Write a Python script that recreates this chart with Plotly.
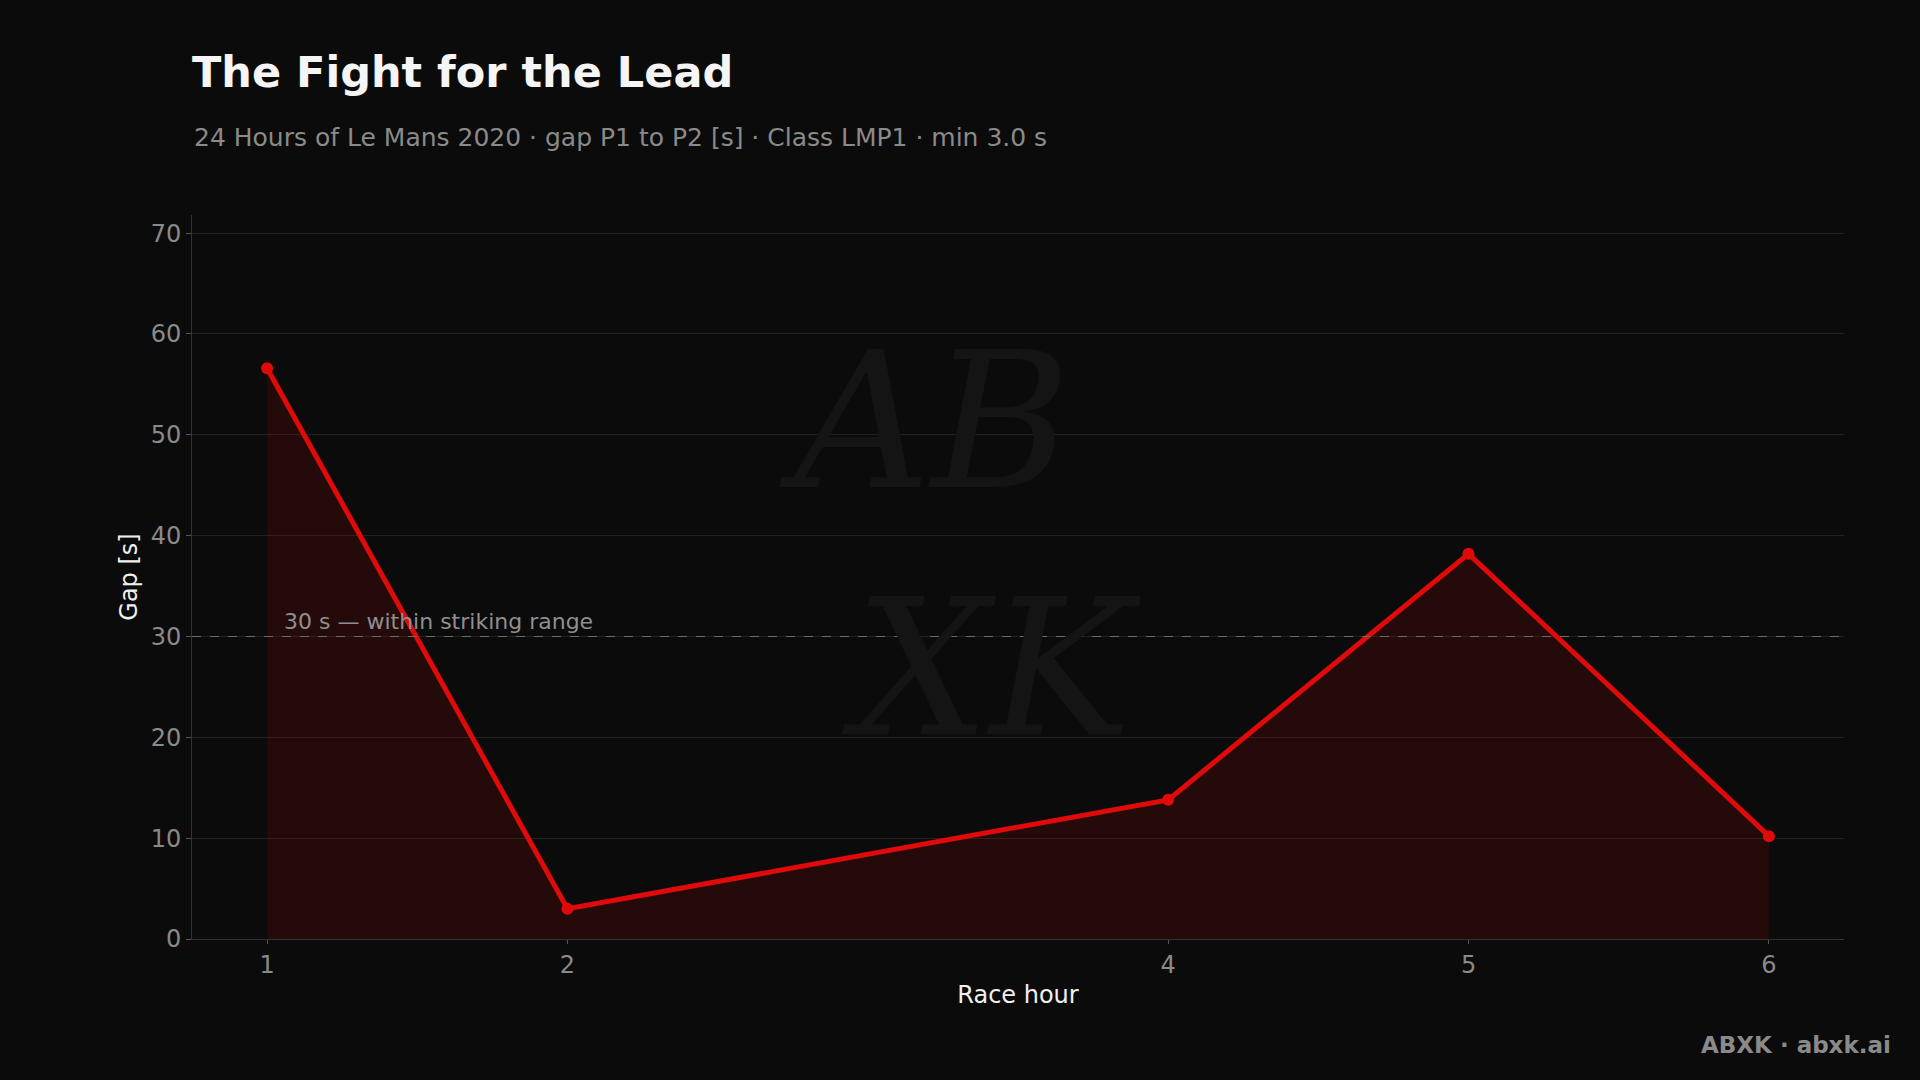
import plotly.graph_objects as go

hours = [1, 2, 4, 5, 6]
gap_s = [56.6, 3.0, 13.8, 38.2, 10.2]
y_ticks = [0, 10, 20, 30, 40, 50, 60, 70]
threshold = 30
threshold_label = "30 s — within striking range"

title = "The Fight for the Lead"
subtitle = "24 Hours of Le Mans 2020 · gap P1 to P2 [s] · Class LMP1 · min 3.0 s"
footer = "ABXK · abxk.ai"
watermark = "AB<br> XK"

BG = "#0b0b0b"
RED = "#e00a0a"
FONT = "DejaVu Sans"

W, H = 1920, 1080
plot_l, plot_r, plot_t, plot_b = 192, 1844, 215, 939
pw, ph = plot_r - plot_l, plot_b - plot_t


def px_to_paper(px, py):
    return (px - plot_l) / pw, (plot_b - py) / ph


fig = go.Figure()
fig.add_trace(go.Scatter(
    x=hours, y=gap_s, mode="lines+markers",
    line=dict(color=RED, width=5),
    marker=dict(color=RED, size=12),
    fill="tozeroy", fillcolor="rgba(200,10,10,0.14)",
    hoverinfo="x+y", showlegend=False,
))

fig.add_shape(type="line", xref="paper", yref="y", x0=0, x1=1, y0=threshold, y1=threshold,
              line=dict(color="#6a6a6a", width=1.2, dash="dash"), layer="above")
fig.add_annotation(x=1.05, y=threshold, xref="x", yref="y", text=threshold_label,
                   showarrow=False, xanchor="left", yanchor="bottom",
                   font=dict(family=FONT, size=22, color="#8f8f8f"))

# watermark
wx, wy = px_to_paper(960, 545)
fig.add_annotation(x=wx, y=wy, xref="paper", yref="paper", text=f"<i>{watermark}</i>",
                   showarrow=False, align="left",
                   font=dict(family="DejaVu Serif", size=190, color="#141414"))

sx, sy = px_to_paper(192, 137)
fig.add_annotation(x=sx, y=sy, xref="paper", yref="paper",
                   xanchor="left", yanchor="middle", showarrow=False,
                   text=subtitle, font=dict(family=FONT, size=25, color="#8a8a8a"))

fx, fy = px_to_paper(1893, 1045)
fig.add_annotation(x=fx, y=fy, xref="paper", yref="paper", showarrow=False,
                   xanchor="right", yanchor="middle",
                   text=f"<b>{footer}</b>", font=dict(family=FONT, size=23, color="#8a8a8a"))

fig.update_layout(
    width=W, height=H,
    paper_bgcolor=BG, plot_bgcolor=BG,
    margin=dict(l=plot_l, r=W - plot_r, t=plot_t, b=H - plot_b),
    font=dict(family=FONT, color="#8a8a8a", size=22),
    title=dict(
        text=f"<b>{title}</b>",
        x=192 / W, xanchor="left", xref="container",
        y=1 - 72 / H, yanchor="middle", yref="container",
        font=dict(family=FONT, size=43, color="#f5f5f5"),
    ),
    xaxis=dict(
        range=[0.75, 6.25], tickvals=hours, ticktext=[str(h) for h in hours],
        showgrid=False, zeroline=False,
        showline=True, linecolor="#333333", linewidth=1,
        ticks="outside", ticklen=4, tickcolor="#555555",
        tickfont=dict(size=24, color="#8a8a8a"),
        title=dict(text="Race hour", font=dict(size=24, color="#f0f0f0"), standoff=8),
    ),
    yaxis=dict(
        range=[0, 71.8], tickvals=y_ticks,
        showgrid=True, gridcolor="#222222", gridwidth=1, zeroline=False,
        showline=True, linecolor="#333333", linewidth=1,
        ticks="outside", ticklen=5, tickcolor="#555555",
        tickfont=dict(size=24, color="#8a8a8a"),
        title=dict(text="Gap [s]", font=dict(size=24, color="#f0f0f0"), standoff=6),
    ),
)

fig.write_html("out.html", config={"displayModeBar": False})
with open("out.html", "r", encoding="utf-8") as f:
    html = f.read()
html = html.replace("<head>", "<head><style>html,body{margin:0;padding:0;background:#0b0b0b;overflow:hidden;}</style>", 1)
with open("out.html", "w", encoding="utf-8") as f:
    f.write(html)
